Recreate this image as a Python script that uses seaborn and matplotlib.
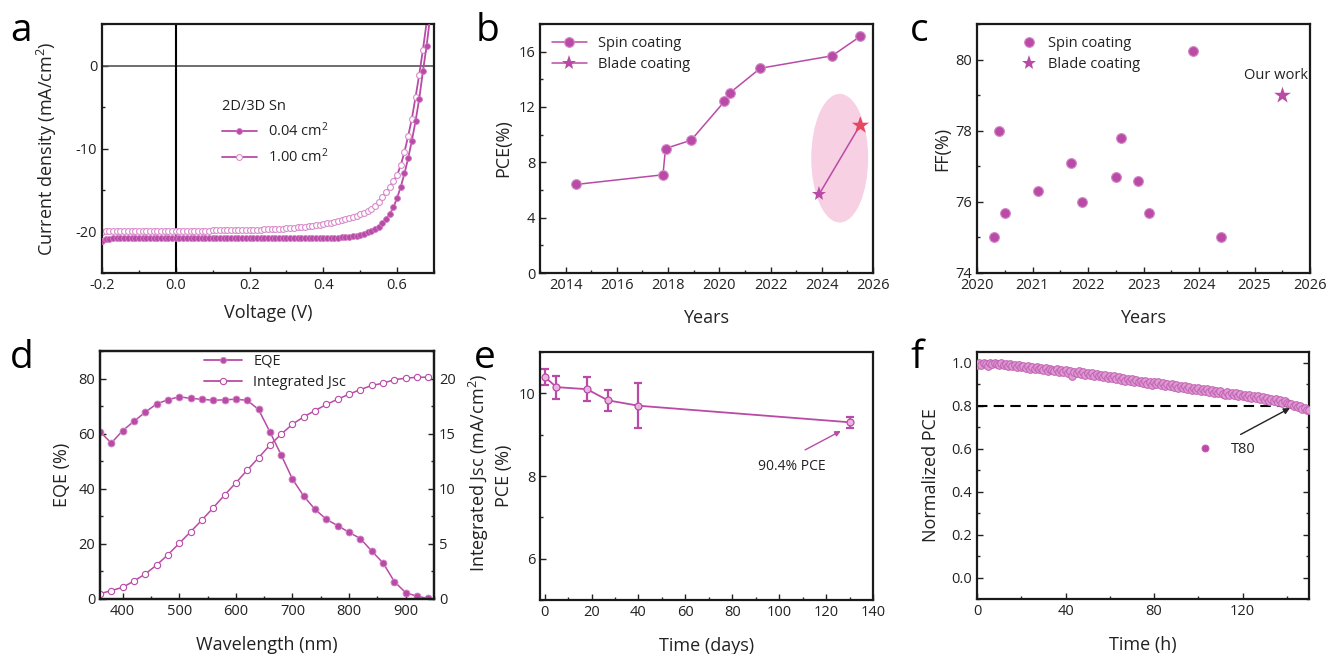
import numpy as np
import pandas as pd
import matplotlib
matplotlib.use("Agg")
import matplotlib.pyplot as plt
from matplotlib.patches import Ellipse
from matplotlib.lines import Line2D
from matplotlib.ticker import MultipleLocator, FormatStrFormatter
import seaborn as sns

# ---------------- data ----------------
# a: J-V curves, scan -0.20 .. 0.69 V in 0.01 V steps
jv_voltage = np.round(np.arange(-0.20, 0.695, 0.01), 2)
jv_small = [
    -21.10, -20.95, -20.86, -20.82, -20.80, -20.81, -20.79, -20.80, -20.81, -20.80,
    -20.79, -20.80, -20.81, -20.80, -20.80, -20.79, -20.80, -20.81, -20.80, -20.80,
    -20.80, -20.81, -20.80, -20.79, -20.80, -20.81, -20.80, -20.80, -20.79, -20.80,
    -20.81, -20.80, -20.80, -20.79, -20.80, -20.80, -20.81, -20.80, -20.79, -20.80,
    -20.80, -20.81, -20.80, -20.79, -20.80, -20.80, -20.80, -20.79, -20.80, -20.80,
    -20.80, -20.79, -20.80, -20.80, -20.79, -20.80, -20.79, -20.79, -20.78, -20.78,
    -20.78, -20.78, -20.77, -20.76, -20.74, -20.71, -20.67, -20.62, -20.56, -20.49,
    -20.40, -20.27, -20.10, -19.92, -19.70, -19.40, -19.00, -18.50, -17.90, -17.10,
    -15.95, -14.60, -13.00, -11.15, -9.05, -6.70, -4.00, -0.70, 2.40, 6.00,
]
jv_large = [
    -20.00, -19.97, -19.95, -19.94, -19.94, -19.93, -19.94, -19.93, -19.93, -19.92,
    -19.93, -19.92, -19.92, -19.92, -19.91, -19.92, -19.91, -19.91, -19.92, -19.91,
    -19.91, -19.91, -19.90, -19.90, -19.90, -19.89, -19.89, -19.89, -19.88, -19.88,
    -19.87, -19.87, -19.86, -19.86, -19.85, -19.85, -19.84, -19.83, -19.82, -19.81,
    -19.80, -19.79, -19.78, -19.76, -19.75, -19.73, -19.71, -19.69, -19.67, -19.64,
    -19.60, -19.57, -19.54, -19.50, -19.46, -19.42, -19.37, -19.32, -19.26, -19.19,
    -19.10, -19.02, -18.93, -18.83, -18.72, -18.60, -18.48, -18.36, -18.23, -18.10,
    -17.95, -17.78, -17.58, -17.30, -16.90, -16.40, -15.80, -15.22, -14.60, -13.92,
    -13.20, -12.00, -10.40, -8.50, -6.40, -3.80, -1.10, 1.90, 5.20, 8.50,
]

# b: PCE evolution
spin_year = [2014.4, 2017.8, 2017.9, 2018.9, 2020.2, 2020.4, 2021.6, 2024.4, 2025.5]
spin_pce = [6.4, 7.1, 9.0, 9.6, 12.4, 13.0, 14.8, 15.7, 17.1]
blade_year = [2023.9, 2025.5]
blade_pce = [5.7, 10.7]

# c: FF evolution
ff_year = [2020.3, 2020.4, 2020.5, 2021.1, 2021.7, 2021.9, 2022.5, 2022.6,
           2022.9, 2023.1, 2023.9, 2024.4]
ff_value = [75.0, 78.0, 75.7, 76.3, 77.1, 76.0, 76.7, 77.8, 76.6, 75.7, 80.25, 75.0]
ff_ours_year = [2025.5]
ff_ours = [79.0]

# d: EQE and integrated Jsc
wavelength = [360, 380, 400, 420, 440, 460, 480, 500, 520, 540, 560, 580, 600, 620, 640,
              660, 680, 700, 720, 740, 760, 780, 800, 820, 840, 860, 880, 900, 920, 940]
eqe = [60.7, 56.6, 61.1, 64.5, 67.8, 70.8, 72.3, 73.4, 72.8, 72.5, 72.1, 72.3, 72.5, 72.1,
       68.8, 60.7, 52.3, 43.5, 37.3, 32.5, 28.9, 26.6, 24.2, 21.9, 17.4, 13.1, 6.3, 2.3, 1.0, 0.2]
jsc = [0.48, 0.76, 1.06, 1.63, 2.27, 3.08, 4.02, 5.05, 6.10, 7.16, 8.28, 9.43, 10.54, 11.69,
       12.81, 13.96, 14.95, 15.86, 16.53, 17.10, 17.65, 18.13, 18.58, 19.00, 19.37, 19.58,
       19.90, 20.03, 20.12, 20.12]

# e: shelf stability
days = [0, 5, 18, 27, 40, 130]
pce_days = [10.40, 10.15, 10.10, 9.83, 9.70, 9.30]
pce_err = [0.20, 0.28, 0.29, 0.26, 0.55, 0.13]

# f: operational stability, 0 .. 150 h in 1 h steps
hours = np.arange(0, 151)
norm_pce = [
    0.988, 0.997, 0.991, 1.000, 0.993, 0.987, 0.998, 0.992, 1.001, 0.994,
    0.990, 0.998, 0.988, 0.995, 0.985, 0.992, 0.983, 0.991, 0.981, 0.988,
    0.979, 0.987, 0.976, 0.984, 0.973, 0.982, 0.971, 0.980, 0.969, 0.977,
    0.966, 0.975, 0.962, 0.972, 0.966, 0.960, 0.970, 0.958, 0.967, 0.956,
    0.966, 0.954, 0.963, 0.940, 0.958, 0.950, 0.960, 0.947, 0.956, 0.944,
    0.953, 0.942, 0.950, 0.939, 0.947, 0.936, 0.945, 0.933, 0.942, 0.930,
    0.939, 0.927, 0.936, 0.924, 0.933, 0.921, 0.930, 0.917, 0.926, 0.914,
    0.923, 0.911, 0.920, 0.908, 0.917, 0.905, 0.914, 0.902, 0.910, 0.898,
    0.911, 0.899, 0.908, 0.896, 0.905, 0.893, 0.902, 0.890, 0.899, 0.887,
    0.896, 0.884, 0.893, 0.881, 0.890, 0.878, 0.887, 0.875, 0.884, 0.873,
    0.881, 0.870, 0.879, 0.867, 0.876, 0.864, 0.873, 0.861, 0.870, 0.858,
    0.867, 0.855, 0.848, 0.863, 0.852, 0.861, 0.849, 0.858, 0.846, 0.855,
    0.843, 0.852, 0.840, 0.849, 0.837, 0.846, 0.834, 0.843, 0.831, 0.840,
    0.828, 0.837, 0.824, 0.833, 0.821, 0.830, 0.817, 0.826, 0.814, 0.823,
    0.812, 0.806, 0.809, 0.799, 0.803, 0.793, 0.797, 0.786, 0.790, 0.778, 0.781,
]

# ---------------- style ----------------
sns.set_style("ticks")
plt.rcParams['font.family'] = ['Open Sans', 'DejaVu Sans']
plt.rcParams['font.size'] = 10
plt.rcParams['axes.linewidth'] = 1.6
plt.rcParams['mathtext.default'] = 'regular'

MAG = '#B94BA6'
MAG_EDGE = '#D48BC8'
MAG_LIGHT = '#D98CCB'
TXT = '#222222'

fig = plt.figure(figsize=(13.26, 6.54), dpi=100)
W, H = 1326, 654


def add_ax(left, top, right, bottom):
    return fig.add_axes([left / W, 1 - bottom / H, (right - left) / W, (bottom - top) / H])


def style_ax(ax, right_ticks=False):
    ax.tick_params(direction='in', which='major', length=4, width=1, labelsize=10.5,
                   colors=TXT, right=right_ticks)
    ax.tick_params(direction='in', which='minor', length=2.5, width=1, right=right_ticks)
    for s in ax.spines.values():
        s.set_color('#1a1a1a')


def set_labels(ax, xlabel, ylabel, xpos, ypos):
    ax.set_xlabel(xlabel, fontsize=13, color=TXT)
    ax.set_ylabel(ylabel, fontsize=13, color=TXT)
    ax.xaxis.set_label_coords(0.5, xpos)
    ax.yaxis.set_label_coords(ypos, 0.5)


def recolor_legend(leg):
    for t in leg.get_texts():
        t.set_color(TXT)


def panel_letter(x, y, s):
    fig.text(x / W, 1 - y / H, s, fontsize=28, color='black', va='baseline', ha='left')


ax_a = add_ax(102, 24, 434, 273)
ax_b = add_ax(540, 24, 873, 273)
ax_c = add_ax(977, 24, 1310, 273)
ax_d = add_ax(100, 351, 434, 599)
ax_e = add_ax(540, 352, 873, 600)
ax_f = add_ax(977, 352, 1309, 599)

# ---------------- a ----------------
ax = ax_a
ax.axhline(0, color='#555555', lw=1.2, zorder=1)
ax.axvline(0, color='black', lw=1.5, zorder=1)
sns.lineplot(x=jv_voltage, y=jv_small, ax=ax, color=MAG, lw=1.3, marker='o', ms=4.2,
             mfc=MAG, mec='#CF7CC2', mew=0.6, label='0.04 cm$^2$', zorder=3)
sns.lineplot(x=jv_voltage, y=jv_large, ax=ax, color=MAG, lw=1.3, marker='o', ms=4.2,
             mfc='white', mec=MAG_LIGHT, mew=0.8, label='1.00 cm$^2$', zorder=2)
ax.set_xlim(-0.2, 0.7)
ax.set_ylim(-25, 5)
ax.xaxis.set_minor_locator(MultipleLocator(0.1))
ax.yaxis.set_minor_locator(MultipleLocator(5))
ax.set_xticks([-0.2, 0.0, 0.2, 0.4, 0.6])
ax.set_xticklabels(['-0.2', '0.0', '0.2', '0.4', '0.6'])
ax.set_yticks([-20, -10, 0])
ax.set_yticklabels(['-20', '-10', '0'])
style_ax(ax)
set_labels(ax, 'Voltage (V)', 'Current density (mA/cm$^2$)', -0.125, -0.13)
leg = ax.legend(title='2D/3D Sn', loc='upper left', bbox_to_anchor=(0.33, 0.74), frameon=False,
                fontsize=10.5, title_fontsize=10.5, handlelength=2.4, labelspacing=0.5,
                borderpad=0.2)
leg._legend_box.align = 'left'
recolor_legend(leg)
leg.get_title().set_color(TXT)

# ---------------- b ----------------
ax = ax_b
ax.add_patch(Ellipse((2024.7, 8.3), 2.22, 9.3, color='#F7D0E3', lw=0, zorder=0))
sns.lineplot(x=spin_year, y=spin_pce, ax=ax, color=MAG, lw=1.1, marker='o', ms=7,
             mfc=MAG, mec=MAG_EDGE, mew=0.8, label='Spin coating', sort=False, zorder=3)
sns.lineplot(x=blade_year, y=blade_pce, ax=ax, color=MAG, lw=1.1, marker='*', ms=11,
             mfc=MAG, mec=MAG, mew=0, label='Blade coating', sort=False, zorder=3)
sns.scatterplot(x=blade_year[1:], y=blade_pce[1:], ax=ax, marker='*', s=170, color='#E9475E',
                edgecolor='#E9475E', linewidth=0, zorder=4, legend=False)
ax.set_xlim(2013, 2026)
ax.set_ylim(0, 18)
ax.set_xticks([2014, 2016, 2018, 2020, 2022, 2024, 2026])
ax.xaxis.set_minor_locator(MultipleLocator(1))
ax.yaxis.set_major_locator(MultipleLocator(4))
ax.yaxis.set_minor_locator(MultipleLocator(2))
style_ax(ax)
set_labels(ax, 'Years', 'PCE(%)', -0.145, -0.082)
leg = ax.legend(loc='upper left', bbox_to_anchor=(0.0, 1.0), frameon=False, fontsize=10.5,
                handlelength=2.4, labelspacing=0.45, borderpad=0.3)
recolor_legend(leg)

# ---------------- c ----------------
ax = ax_c
sns.scatterplot(x=ff_year, y=ff_value, ax=ax, marker='o', s=50, color=MAG,
                edgecolor=MAG_EDGE, linewidth=0.8, zorder=3)
sns.scatterplot(x=ff_ours_year, y=ff_ours, ax=ax, marker='*', s=160, color=MAG,
                edgecolor=MAG, linewidth=0, zorder=3)
ax.text(2025.38, 79.55, 'Our work', ha='center', va='center', fontsize=10.5, color=TXT)
ax.set_xlim(2020, 2026)
ax.set_ylim(74, 81)
ax.xaxis.set_major_locator(MultipleLocator(1))
ax.xaxis.set_minor_locator(MultipleLocator(0.5))
ax.yaxis.set_major_locator(MultipleLocator(2))
ax.yaxis.set_minor_locator(MultipleLocator(1))
style_ax(ax)
set_labels(ax, 'Years', 'FF(%)', -0.145, -0.078)
handles = [Line2D([], [], ls='none', marker='o', ms=7, mfc=MAG, mec=MAG_EDGE, mew=0.8),
           Line2D([], [], ls='none', marker='*', ms=11, mfc=MAG, mec=MAG, mew=0)]
leg = ax.legend(handles, ['Spin coating', 'Blade coating'], loc='upper left',
                bbox_to_anchor=(0.1, 1.0), frameon=False, fontsize=10.5, handlelength=1.0,
                labelspacing=0.45, borderpad=0.3)
recolor_legend(leg)

# ---------------- d ----------------
ax = ax_d
ax2 = ax.twinx()
sns.lineplot(x=wavelength, y=eqe, ax=ax, color=MAG, lw=1.1, marker='o', ms=5,
             mfc=MAG, mec=MAG_EDGE, mew=0.6, legend=False)
sns.lineplot(x=wavelength, y=jsc, ax=ax2, color=MAG, lw=1.1, marker='o', ms=4.5,
             mfc='white', mec=MAG, mew=0.8, legend=False)
ax.set_xlim(360, 950)
ax.set_ylim(0, 90)
ax2.set_ylim(0, 22.5)
ax.xaxis.set_major_locator(MultipleLocator(100))
ax.xaxis.set_minor_locator(MultipleLocator(50))
ax.yaxis.set_major_locator(MultipleLocator(20))
ax.yaxis.set_minor_locator(MultipleLocator(10))
ax2.yaxis.set_major_locator(MultipleLocator(5))
ax2.yaxis.set_minor_locator(MultipleLocator(2.5))
style_ax(ax)
style_ax(ax2)
ax2.tick_params(which='both', right=True, direction='in')
set_labels(ax, 'Wavelength (nm)', 'EQE (%)', -0.148, -0.087)
ax2.set_ylabel('Integrated Jsc (mA/cm$^2$)', fontsize=13, color=TXT, rotation=90)
ax2.yaxis.set_label_coords(1.099, 0.51)
handles = [Line2D([], [], color=MAG, lw=1.3, marker='o', ms=4.5, mfc=MAG, mec=MAG_EDGE, mew=0.6),
           Line2D([], [], color=MAG, lw=1.3, marker='o', ms=4.5, mfc='white', mec=MAG, mew=0.8)]
leg = ax.legend(handles, ['EQE', 'Integrated Jsc'], loc='upper left', bbox_to_anchor=(0.28, 1.03),
                frameon=False, fontsize=10.5, handlelength=2.6, labelspacing=0.45, borderpad=0.2)
recolor_legend(leg)

# ---------------- e ----------------
ax = ax_e
sns.lineplot(x=days, y=pce_days, ax=ax, color=MAG, lw=1.3, marker='o', ms=5,
             mfc='#E9B5DE', mec=MAG, mew=0.9, zorder=3)
ax.errorbar(days, pce_days, yerr=pce_err, fmt='none', ecolor=MAG, elinewidth=1.6,
            capsize=3, capthick=1.6, zorder=2)
ax.annotate('', xy=(127.3, 9.12), xytext=(110, 8.6),
            arrowprops=dict(arrowstyle='-|>', color=MAG, lw=1.0, mutation_scale=8))
ax.text(105.5, 8.22, '90.4% PCE', ha='center', va='center', fontsize=10, color=TXT)
ax.set_xlim(-2, 140)
ax.set_ylim(5, 11)
ax.xaxis.set_major_locator(MultipleLocator(20))
ax.xaxis.set_minor_locator(MultipleLocator(10))
ax.set_yticks([6, 8, 10])
ax.yaxis.set_minor_locator(MultipleLocator(1))
style_ax(ax)
set_labels(ax, 'Time (days)', 'PCE (%)', -0.15, -0.082)

# ---------------- f ----------------
ax = ax_f
ax.axhline(0.8, color='black', lw=1.5, ls=(0, (5, 3)), zorder=1)
sns.lineplot(x=hours, y=norm_pce, ax=ax, color=MAG, lw=0, marker='o', ms=5.5,
             mfc='#DE9AD2', mec='#C260B3', mew=0.7, legend=False, zorder=3)
ax.annotate('', xy=(142.5, 0.795), xytext=(118, 0.66),
            arrowprops=dict(arrowstyle='-|>', color='#222222', lw=1.0, mutation_scale=9))
ax.set_xlim(0, 150)
ax.set_ylim(-0.1, 1.05)
ax.xaxis.set_major_locator(MultipleLocator(40))
ax.xaxis.set_minor_locator(MultipleLocator(20))
ax.yaxis.set_major_locator(MultipleLocator(0.2))
ax.yaxis.set_minor_locator(MultipleLocator(0.1))
ax.yaxis.set_major_formatter(FormatStrFormatter('%.1f'))
style_ax(ax, right_ticks=True)
set_labels(ax, 'Time (h)', 'Normalized PCE', -0.15, -0.111)
handles = [Line2D([], [], ls='none', marker='o', ms=5, mfc=MAG, mec='#C260B3', mew=0.7)]
leg = ax.legend(handles, ['T80'], loc='center left', bbox_to_anchor=(0.62, 0.605),
                frameon=False, fontsize=10.5, handlelength=1.2, handletextpad=1.2)
recolor_legend(leg)

# ---------------- letters ----------------
panel_letter(10, 41, 'a')
panel_letter(476, 41, 'b')
panel_letter(910, 41, 'c')
panel_letter(10, 368, 'd')
panel_letter(474, 368, 'e')
panel_letter(910, 368, 'f')

fig.savefig('out.png', dpi=100)
